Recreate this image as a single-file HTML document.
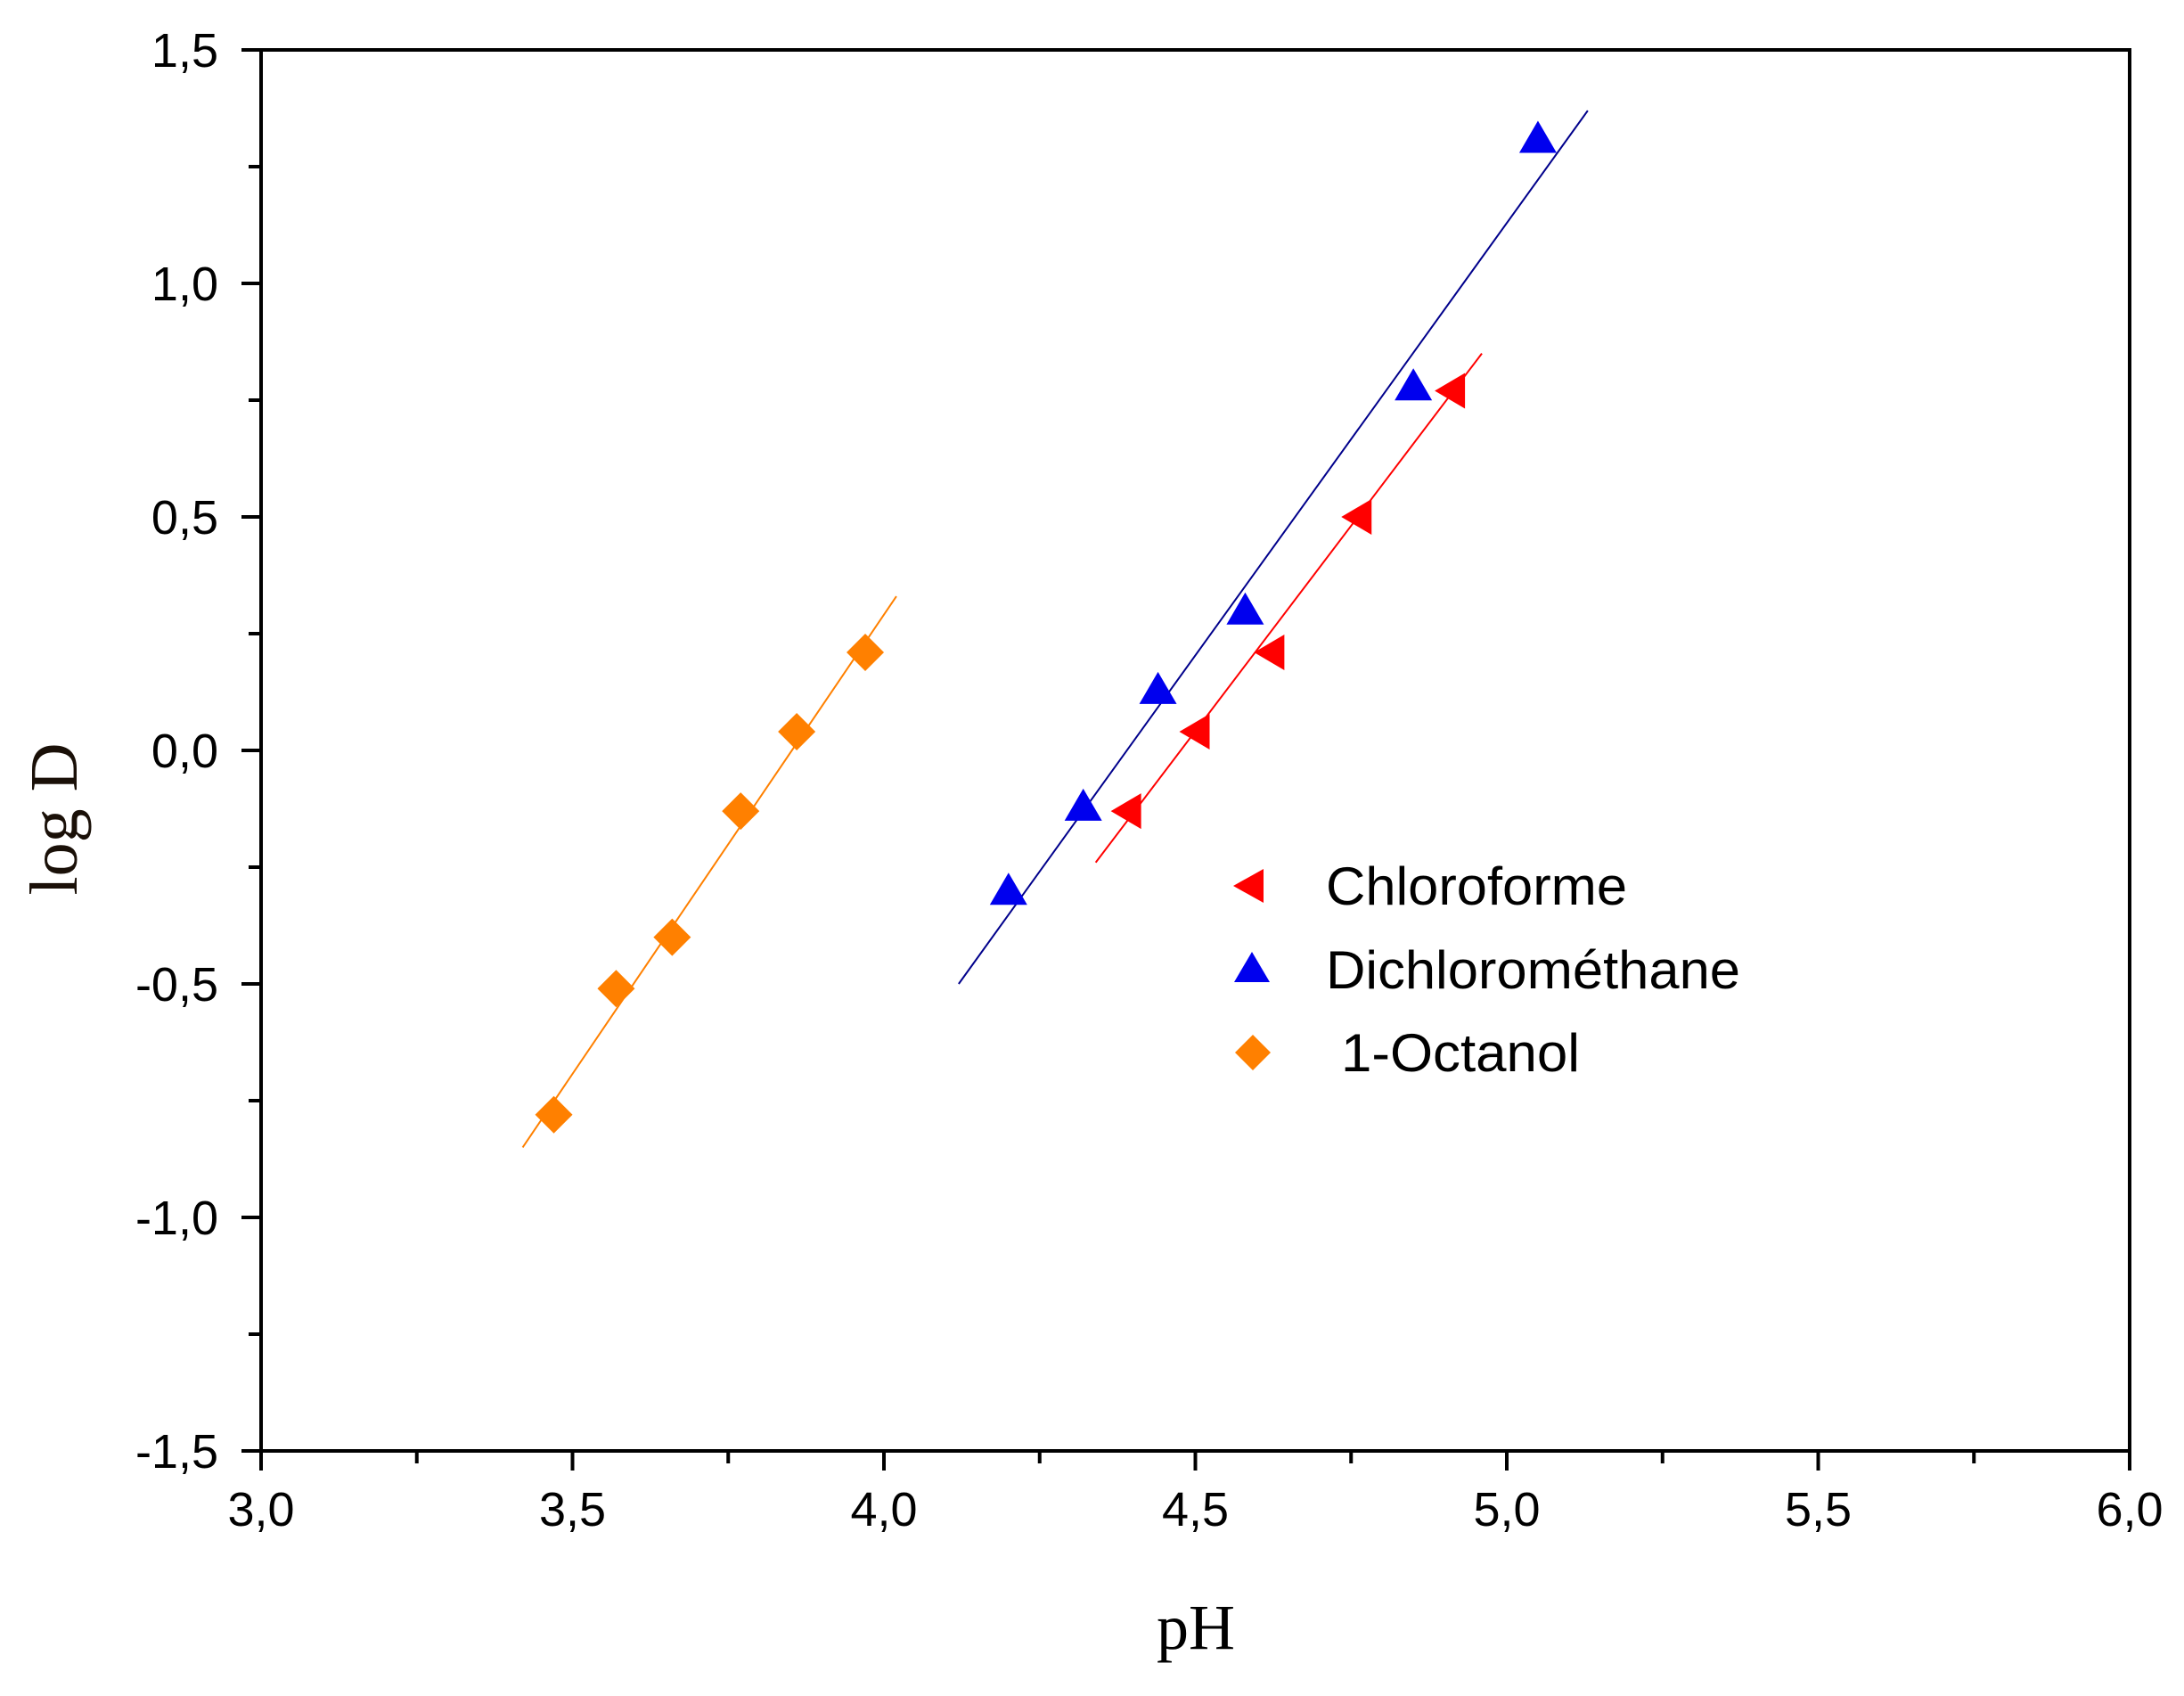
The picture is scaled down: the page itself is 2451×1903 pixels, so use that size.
<!DOCTYPE html>
<html><head><meta charset="utf-8"><style>
html,body{margin:0;padding:0;background:#fff;}
svg{display:block;}
</style></head><body>
<svg id="chart" width="2451" height="1903" viewBox="0 0 2451 1903" xmlns="http://www.w3.org/2000/svg">
<g id="axes"></g>
<g id="series"></g>
<text x="1342" y="1850" font-family="Liberation Serif, serif" font-size="72" text-anchor="middle" fill="#000">pH</text>
<text transform="translate(86,919) rotate(-90)" font-family="Liberation Serif, serif" font-size="76" text-anchor="middle" fill="#1a1008">log D</text>
<g font-family="Liberation Sans, sans-serif" font-size="60" fill="#000">
<polygon points="1384,994 1418,975 1418,1013" fill="#ff0000"/>
<text x="1488" y="1015" textLength="338" lengthAdjust="spacingAndGlyphs">Chloroforme</text>
<polygon points="1405,1068 1425,1102 1385,1102" fill="#0000ee"/>
<text x="1488" y="1109" textLength="465" lengthAdjust="spacingAndGlyphs">Dichlorométhane</text>
<polygon points="1406,1161 1426,1181 1406,1201 1386,1181" fill="#ff8000"/>
<text x="1505" y="1202" textLength="268" lengthAdjust="spacingAndGlyphs">1-Octanol</text>
</g>
</svg>
<script>
const xTicks = [3.0, 3.5, 4.0, 4.5, 5.0, 5.5, 6.0];
const xTickLabels = ["3,0","3,5","4,0","4,5","5,0","5,5","6,0"];
const yTicks = [-1.5, -1.0, -0.5, 0.0, 0.5, 1.0, 1.5];
const yTickLabels = ["-1,5","-1,0","-0,5","0,0","0,5","1,0","1,5"];

const chloroPH = [4.39, 4.50, 4.62, 4.76, 4.91];
const chloroLogD = [-0.13, 0.04, 0.21, 0.50, 0.77];
const chloroFitPH = [4.34, 4.96];
const chloroFitLogD = [-0.24, 0.85];

const dcmPH = [4.20, 4.32, 4.44, 4.58, 4.85, 5.05];
const dcmLogD = [-0.30, -0.12, 0.13, 0.30, 0.78, 1.31];
const dcmFitPH = [4.12, 5.13];
const dcmFitLogD = [-0.50, 1.37];

const octPH = [3.47, 3.57, 3.66, 3.77, 3.86, 3.97];
const octLogD = [-0.78, -0.51, -0.40, -0.13, 0.04, 0.21];
const octFitPH = [3.42, 4.02];
const octFitLogD = [-0.85, 0.33];

const NS = "http://www.w3.org/2000/svg";
const L = 293, R = 2390, T = 56, B = 1628;
const xMin = 3, xMax = 6, yMin = -1.5, yMax = 1.5;
function sx(v){ return L + (v - xMin) / (xMax - xMin) * (R - L); }
function sy(v){ return B - (v - yMin) / (yMax - yMin) * (B - T); }
function mk(tag, attrs, parent){
  const e = document.createElementNS(NS, tag);
  for (const k in attrs) e.setAttribute(k, attrs[k]);
  parent.appendChild(e);
  return e;
}
const axes = document.getElementById('axes');
const series = document.getElementById('series');

const frame = mk('rect', {x:L, y:T, width:R-L, height:B-T, fill:'none', stroke:'#000', 'stroke-width':4}, axes);



xTicks.forEach((v, i) => {
  const t = mk('line', {x1:sx(v), x2:sx(v), y1:B, y2:B+22, stroke:'#000', 'stroke-width':4}, axes);
  
  
  const lb = mk('text', {x:sx(v), y:B+84, 'text-anchor':'middle', 'font-family':'Liberation Sans, sans-serif', 'font-size':54, fill:'#000'}, axes);
  lb.textContent = xTickLabels[i];
  
  
  if (i < xTicks.length - 1) {
    const m = (v + xTicks[i+1]) / 2;
    const mt = mk('line', {x1:sx(m), x2:sx(m), y1:B, y2:B+14, stroke:'#000', 'stroke-width':4}, axes);
    
    
  }
});
yTicks.forEach((v, i) => {
  const t = mk('line', {x1:L-22, x2:L, y1:sy(v), y2:sy(v), stroke:'#000', 'stroke-width':4}, axes);
  
  
  const lb = mk('text', {x:L-48, y:sy(v)+19, 'text-anchor':'end', 'font-family':'Liberation Sans, sans-serif', 'font-size':54, fill:'#000'}, axes);
  lb.textContent = yTickLabels[i];
  
  
  if (i < yTicks.length - 1) {
    const m = (v + yTicks[i+1]) / 2;
    const mt = mk('line', {x1:L-14, x2:L, y1:sy(m), y2:sy(m), stroke:'#000', 'stroke-width':4}, axes);
    
    
  }
});

function fit(px, py, color, name){
  const ln = mk('line', {x1:sx(px[0]), y1:sy(py[0]), x2:sx(px[1]), y2:sy(py[1]), stroke:color, 'stroke-width':2}, series);
  
  
}
fit(octFitPH, octFitLogD, '#ff8000', 'octanol-fit-line');
fit(dcmFitPH, dcmFitLogD, '#00008b', 'dichloromethane-fit-line');
fit(chloroFitPH, chloroFitLogD, '#ff0000', 'chloroforme-fit-line');

octPH.forEach((v, i) => {
  const x = sx(v), y = sy(octLogD[i]);
  const p = mk('polygon', {points:`${x},${y-21} ${x+21},${y} ${x},${y+21} ${x-21},${y}`, fill:'#ff8000'}, series);
  
  
});
dcmPH.forEach((v, i) => {
  const x = sx(v), y = sy(dcmLogD[i]);
  const p = mk('polygon', {points:`${x},${y-20} ${x+21},${y+16} ${x-21},${y+16}`, fill:'#0000ee'}, series);
  
  
});
chloroPH.forEach((v, i) => {
  const x = sx(v), y = sy(chloroLogD[i]);
  const p = mk('polygon', {points:`${x-18},${y} ${x+16},${y-20} ${x+16},${y+20}`, fill:'#ff0000'}, series);
  
  
});
</script>
</body></html>
